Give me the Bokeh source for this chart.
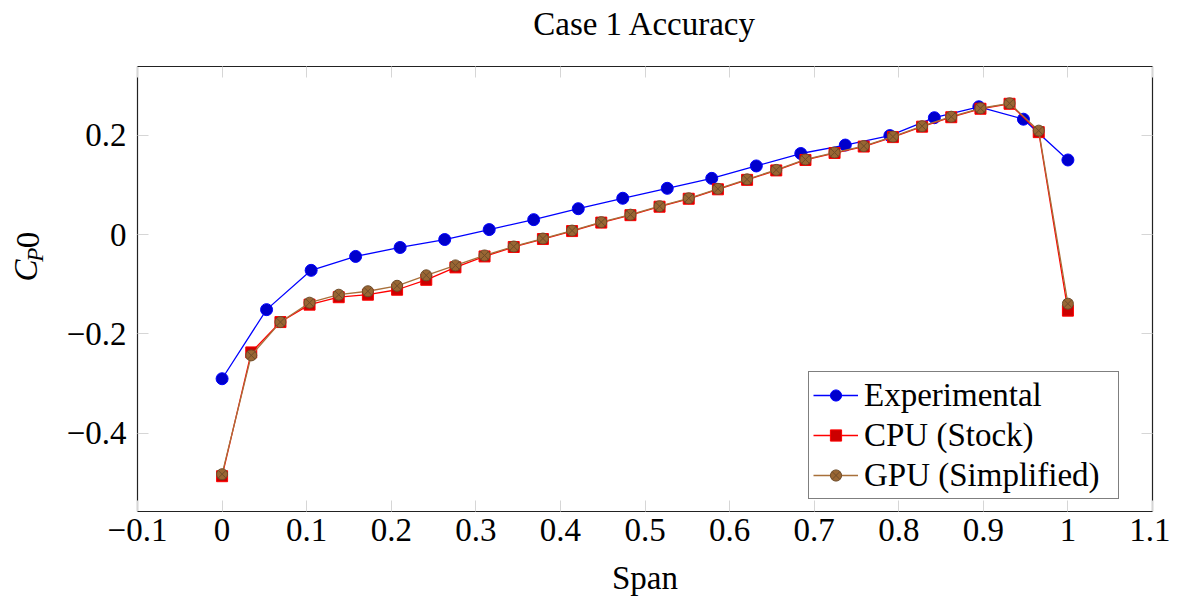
from math import pi
from bokeh.plotting import figure
from bokeh.layouts import row, column
from bokeh.models import Range1d, FixedTicker, LinearAxis, Legend, LegendItem, Label
from bokeh.embed import file_html
from bokeh.resources import INLINE

# ---------------- data ----------------
title_text = "Case 1 Accuracy"
x_label = "Span"
series_names = ["Experimental", "CPU (Stock)", "GPU (Simplified)"]

span_exp = [0.0, 0.0526, 0.1053, 0.1579, 0.2105, 0.2632, 0.3158, 0.3684, 0.4211, 0.4737,
            0.5263, 0.5789, 0.6316, 0.6842, 0.7368, 0.7895, 0.8421, 0.8947, 0.9474, 1.0]
cp_exp = [-0.290, -0.151, -0.072, -0.044, -0.026, -0.010, 0.010, 0.030, 0.052, 0.073,
          0.093, 0.113, 0.138, 0.163, 0.180, 0.199, 0.235, 0.257, 0.232, 0.150]

span_sim = [0.0, 0.0345, 0.0690, 0.1034, 0.1379, 0.1724, 0.2069, 0.2414, 0.2759, 0.3103,
            0.3448, 0.3793, 0.4138, 0.4483, 0.4828, 0.5172, 0.5517, 0.5862, 0.6207, 0.6552,
            0.6897, 0.7241, 0.7586, 0.7931, 0.8276, 0.8621, 0.8966, 0.9310, 0.9655, 1.0]
cp_cpu = [-0.486, -0.237, -0.176, -0.141, -0.126, -0.121, -0.111, -0.091, -0.066, -0.044,
          -0.025, -0.009, 0.007, 0.024, 0.039, 0.056, 0.072, 0.091, 0.110, 0.129,
          0.150, 0.164, 0.177, 0.196, 0.217, 0.236, 0.253, 0.263, 0.206, -0.153]
cp_gpu = [-0.482, -0.243, -0.176, -0.137, -0.121, -0.114, -0.103, -0.082, -0.062, -0.042,
          -0.024, -0.008, 0.008, 0.025, 0.040, 0.057, 0.073, 0.092, 0.111, 0.130,
          0.151, 0.165, 0.178, 0.197, 0.218, 0.237, 0.254, 0.264, 0.209, -0.139]

x_ticks = [-0.1, 0.0, 0.1, 0.2, 0.3, 0.4, 0.5, 0.6, 0.7, 0.8, 0.9, 1.0, 1.1]
x_tick_labels = ["\u22120.1", "0", "0.1", "0.2", "0.3", "0.4", "0.5", "0.6", "0.7",
                 "0.8", "0.9", "1", "1.1"]
y_ticks = [-0.4, -0.2, 0.0, 0.2]
y_tick_labels = ["\u22120.4", "\u22120.2", "0", "0.2"]

# ---------------- layout constants ----------------
FONT = "Liberation Serif"
FS = "33px"
TICK_COLOR = "#d6d6d6"
TOTAL_W = 1170
TOP_H = 60          # strip holding the title
MAIN_H = 539        # strip holding y-title + plot
LEFT_W = 50         # strip holding the y-axis title


def blank_fig(w, h):
    f = figure(width=w, height=h, output_backend="svg", toolbar_location=None,
               x_range=Range1d(0, w), y_range=Range1d(0, h),
               x_axis_type=None, y_axis_type=None,
               min_border_left=0, min_border_right=0, min_border_top=0,
               min_border_bottom=0)
    f.grid.visible = False
    f.outline_line_color = None
    f.background_fill_color = "white"
    f.border_fill_color = "white"
    return f


# ---------------- main plot ----------------
p = figure(width=TOTAL_W - LEFT_W, height=MAIN_H, output_backend="svg",
           toolbar_location=None,
           x_range=Range1d(-0.1, 1.1), y_range=Range1d(-0.557, 0.338),
           min_border_left=137 - LEFT_W, min_border_right=18, min_border_top=6,
           min_border_bottom=88)
p.grid.visible = False
p.outline_line_color = "#222222"
p.outline_line_width = 1.2
p.background_fill_color = "white"
p.border_fill_color = "white"


def style_axis(ax, ticks, labels, standoff, show_labels=True):
    ax.ticker = FixedTicker(ticks=ticks)
    ax.minor_tick_line_color = None
    ax.major_tick_in = 11
    ax.major_tick_out = 0
    ax.major_tick_line_color = TICK_COLOR
    ax.major_tick_line_width = 1
    ax.axis_line_color = None
    if show_labels:
        ax.major_label_overrides = dict(zip(ticks, labels))
        ax.major_label_text_font = FONT
        ax.major_label_text_font_size = FS
        ax.major_label_text_color = "black"
        ax.major_label_standoff = standoff
    else:
        ax.major_label_overrides = {t: "" for t in ticks}
        ax.major_label_standoff = 0


xax = p.xaxis[0]
style_axis(xax, x_ticks, x_tick_labels, 7)
xax.axis_label = x_label
xax.axis_label_text_font = FONT
xax.axis_label_text_font_size = FS
xax.axis_label_text_font_style = "normal"
xax.axis_label_text_color = "black"
xax.axis_label_standoff = 16

yax = p.yaxis[0]
style_axis(yax, y_ticks, y_tick_labels, 11)
yax.major_label_orientation = "horizontal"

top_ax = LinearAxis()
style_axis(top_ax, x_ticks, x_tick_labels, 0, show_labels=False)
p.add_layout(top_ax, "above")
right_ax = LinearAxis()
style_axis(right_ax, y_ticks, y_tick_labels, 0, show_labels=False)
p.add_layout(right_ax, "right")

l1 = p.line(span_exp, cp_exp, line_color="#0000ff", line_width=1.3)
s1 = p.scatter(span_exp, cp_exp, marker="circle", size=12,
               fill_color="#0000cc", line_color="#0000ff", line_width=1)

l2 = p.line(span_sim, cp_cpu, line_color="#ff0000", line_width=1.3)
s2 = p.scatter(span_sim, cp_cpu, marker="square", size=11,
               fill_color="#cc0000", line_color="#ff0000", line_width=1)

l3 = p.line(span_sim, cp_gpu, line_color="#a8703a", line_width=1.3)
s3 = p.scatter(span_sim, cp_gpu, marker="circle_x", size=11,
               fill_color="#996633", line_color="#6e4c2a", line_width=1)

legend = Legend(items=[LegendItem(label=series_names[0], renderers=[l1, s1]),
                       LegendItem(label=series_names[1], renderers=[l2, s2]),
                       LegendItem(label=series_names[2], renderers=[l3, s3])],
                location=(671, 12), margin=0, padding=4, spacing=2,
                glyph_width=45, glyph_height=28, label_standoff=6, label_height=38,
                label_width=250,
                label_text_font=FONT, label_text_font_size=FS,
                label_text_color="black",
                border_line_color="black", border_line_width=1,
                background_fill_color="white", background_fill_alpha=1)
p.add_layout(legend)

# ---------------- title strip ----------------
tf = blank_fig(TOTAL_W, TOP_H)
tf.add_layout(Label(x=644.5, y=TOP_H - 23, text=title_text, text_font=FONT,
                    text_font_size=FS, text_align="center", text_baseline="middle",
                    text_color="black"))

# ---------------- y-axis title strip:  C_P 0 ----------------
lf = blank_fig(LEFT_W, MAIN_H)
page_y0 = TOP_H  # page y of this strip's top edge
lbl_kw = dict(angle=pi / 2, text_font=FONT, text_baseline="middle",
              text_align="center", text_color="black")
lf.add_layout(Label(x=25.5, y=MAIN_H - (307 - page_y0), text="C", text_font_size=FS,
                    text_font_style="italic", **lbl_kw))
lf.add_layout(Label(x=34.5, y=MAIN_H - (288 - page_y0), text="P", text_font_size="23px",
                    text_font_style="italic", **lbl_kw))
lf.add_layout(Label(x=27.5, y=MAIN_H - (270 - page_y0), text="0", text_font_size=FS,
                    text_font_style="normal", **lbl_kw))

layout = column(tf, row(lf, p, spacing=0), spacing=0)

with open("out.html", "w") as f:
    f.write(file_html(layout, INLINE))
